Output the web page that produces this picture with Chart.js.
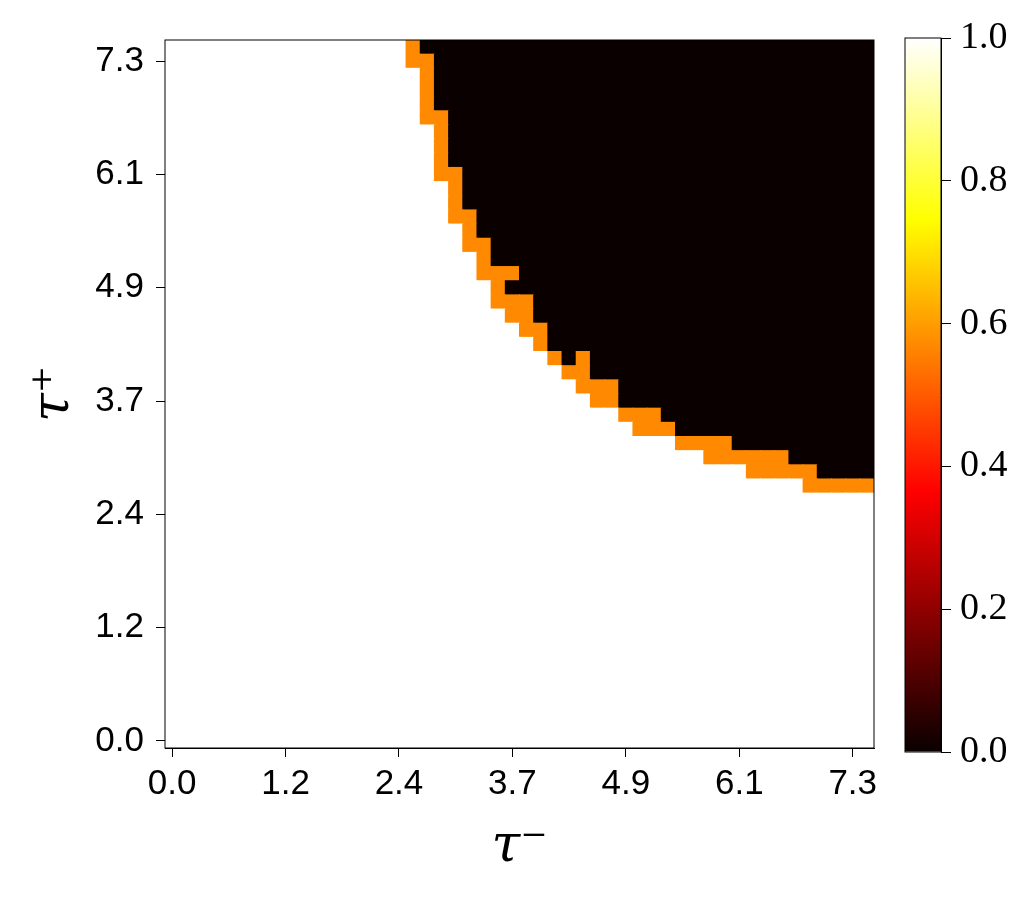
<!DOCTYPE html>
<html>
<head>
<meta charset="utf-8">
<script src="https://cdn.jsdelivr.net/npm/chart.js@4.4.0/dist/chart.umd.min.js"></script>
<style>
  body { margin: 0; background: #fff; }
  #mapChart { position: absolute; left: 0; top: 0; }
  #barChart { position: absolute; left: 880px; top: 0; }
</style>
</head>
<body>
<canvas id="mapChart" width="890" height="899"></canvas>
<canvas id="barChart" width="154" height="899"></canvas>
<script>
// 50 x 50 grid: column = tau- step, row = tau+ step (row 0 at the bottom)
var gridSize = 50;
var tickIndex = [0, 8, 16, 24, 32, 40, 48];
var tickLabels = ['0.0', '1.2', '2.4', '3.7', '4.9', '6.1', '7.3'];

// columns that carry the orange edge, and the edge rows in each of them
var edgeCols = [17, 18, 19, 20, 21, 22, 23, 24, 25, 26, 27, 28, 29, 30, 31, 32,
                33, 34, 35, 36, 37, 38, 39, 40, 41, 42, 43, 44, 45, 46, 47, 48, 49];
var edgeRows = [
  [48, 49],
  [44, 45, 46, 47, 48],
  [40, 41, 42, 43, 44],
  [37, 38, 39, 40],
  [35, 36, 37],
  [33, 34, 35],
  [31, 32, 33],
  [30, 31, 33],
  [29, 30, 31],
  [28, 29],
  [27],
  [26],
  [25, 26, 27],
  [24, 25],
  [24, 25],
  [23],
  [22, 23],
  [22, 23],
  [22],
  [21],
  [21],
  [20, 21],
  [20, 21],
  [20],
  [19, 20],
  [19, 20],
  [19, 20],
  [19],
  [18, 19],
  [18],
  [18],
  [18],
  [18]
];

// cell levels: below the edge, on the edge, above the edge
var lowValue = 1.0;
var edgeValue = 0.57;
var highValue = 0.0;

var barTicks = [0, 0.2, 0.4, 0.6, 0.8, 1.0];

// matplotlib "hot" colormap
var hotStops = [0, 0.365079, 0.746032, 1];
var hotColors = ['rgb(10,0,0)', 'rgb(255,0,0)', 'rgb(255,255,0)', 'rgb(255,255,255)'];

function clip(v) { return Math.max(0, Math.min(1, v)); }

function hot(v) {
  var r = clip(0.0416 + (1 - 0.0416) * v / 0.365079);
  var g = clip((v - 0.365079) / 0.380953);
  var b = clip((v - 0.746032) / 0.253968);
  return 'rgb(' + Math.round(r * 255) + ',' + Math.round(g * 255) + ',' + Math.round(b * 255) + ')';
}

// build the value table
var cellValue = [];
for (var r = 0; r < gridSize; r++) {
  cellValue.push(new Array(gridSize).fill(lowValue));
}
edgeCols.forEach(function(c, k) {
  var rows = edgeRows[k];
  var lowest = Math.min.apply(null, rows);
  for (var r = lowest; r < gridSize; r++) {
    cellValue[r][c] = rows.indexOf(r) >= 0 ? edgeValue : highValue;
  }
});

// one dataset per row, each cell a floating bar one row high
var datasets = cellValue.map(function(row, r) {
  return {
    data: row.map(function(v, c) { return { x: c, y: [r - 0.5, r + 0.5] }; }),
    backgroundColor: row.map(hot),
    borderWidth: 0,
    grouped: false,
    barPercentage: 1,
    categoryPercentage: 1,
    inflateAmount: 0.5
  };
});

var framePlugin = {
  id: 'frame',
  afterDraw: function(chart) {
    var a = chart.chartArea;
    var ctx = chart.ctx;
    ctx.save();
    ctx.strokeStyle = '#000';
    ctx.lineWidth = 1;
    ctx.strokeRect(a.left, a.top, a.right - a.left, a.bottom - a.top);
    ctx.restore();
  }
};

var tickFont = { family: 'Liberation Sans', size: 35 };
var titleFont = { family: 'DejaVu Serif', style: 'italic', size: 52 };

function tickAxis(size, pad, title, titlePad) {
  return {
    type: 'linear',
    min: -0.5,
    max: gridSize - 0.5,
    offset: false,
    stacked: false,
    afterFit: function(scale) {
      if (scale.isHorizontal()) scale.height = size; else scale.width = size;
    },
    afterBuildTicks: function(scale) {
      scale.ticks = tickIndex.map(function(v) { return { value: v }; });
    },
    ticks: {
      callback: function(value, i) { return tickLabels[i]; },
      font: tickFont,
      color: '#000',
      padding: pad,
      autoSkip: false,
      maxRotation: 0
    },
    grid: { offset: false, drawOnChartArea: false, drawTicks: true, tickLength: 9, color: '#000', lineWidth: 1 },
    border: { display: true, color: '#000', width: 1 },
    title: { display: true, text: title, font: titleFont, color: '#000', padding: titlePad }
  };
}

new Chart(document.getElementById('mapChart'), {
  type: 'bar',
  data: { datasets: datasets },
  options: {
    responsive: false,
    animation: false,
    layout: { padding: { top: 40, right: 16, left: 0, bottom: 0 } },
    plugins: { legend: { display: false }, tooltip: { enabled: false } },
    scales: {
      x: tickAxis(151, 6, 'τ⁻', { top: 0, bottom: 20 }),
      y: tickAxis(165, 12, 'τ⁺', { top: 23, bottom: 0 })
    }
  },
  plugins: [framePlugin]
});

// colour bar
new Chart(document.getElementById('barChart'), {
  type: 'bar',
  data: {
    labels: [''],
    datasets: [{
      data: [[highValue, lowValue]],
      backgroundColor: function(ctx) {
        var a = ctx.chart.chartArea;
        if (!a) return '#000';
        var g = ctx.chart.ctx.createLinearGradient(0, a.bottom, 0, a.top);
        hotStops.forEach(function(s, i) { g.addColorStop(s, hotColors[i]); });
        return g;
      },
      borderWidth: 0,
      barPercentage: 1,
      categoryPercentage: 1,
      inflateAmount: 0
    }]
  },
  options: {
    responsive: false,
    animation: false,
    layout: { padding: { top: 38, bottom: 147, left: 25, right: 0 } },
    plugins: { legend: { display: false }, tooltip: { enabled: false } },
    scales: {
      x: { display: false },
      y: {
        position: 'right',
        min: 0,
        max: 1,
        afterFit: function(scale) { scale.width = 93; },
        afterBuildTicks: function(scale) {
          scale.ticks = barTicks.map(function(v) { return { value: v }; });
        },
        ticks: {
          callback: function(value) { return value.toFixed(1); },
          font: { family: 'Liberation Serif', size: 38 },
          color: '#000',
          padding: 9
        },
        grid: { drawOnChartArea: false, drawTicks: true, tickLength: 10, color: '#000', lineWidth: 1 },
        border: { display: true, color: '#000', width: 1 }
      }
    }
  },
  plugins: [framePlugin]
});
</script>
</body>
</html>
